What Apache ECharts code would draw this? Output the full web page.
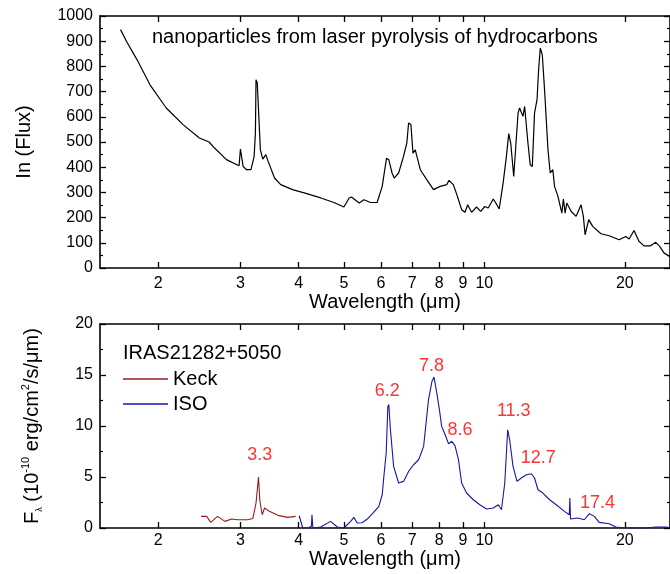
<!DOCTYPE html>
<html lang="en">
<head>
  <meta charset="UTF-8">
  <meta name="viewport" content="width=device-width, initial-scale=1.0">
  <title>PAH spectra</title>
  <style>
    html,body{margin:0;padding:0;background:#fff;}
    #main{width:670px;height:574px;}
  </style>
</head>
<body>
  <div id="main"></div>
  <script src="https://cdn.jsdelivr.net/npm/echarts@6/dist/echarts.min.js"></script>
  <script>
    // wavelength ticks (um), shown on a log scale
    const tickValues=[2,3,4,5,6,7,8,9,10,20];

    // top panel: lab spectrum [wavelength, In(Flux)]
    const labSpectrum=[
      [1.66,946],[1.71,899],[1.80,827],[1.92,727],[2.08,635],[2.26,569],[2.45,516],[2.57,500],[2.58,494],
      [2.64,476],[2.66,478],[2.80,430],[2.98,406],[3.00,472],[3.04,403],[3.09,390],[3.16,390],[3.21,443],
      [3.23,536],[3.24,747],[3.26,734],[3.28,628],[3.31,469],[3.35,432],[3.40,450],[3.44,423],[3.55,357],
      [3.66,331],[3.88,311],[4.00,304],[4.11,298],[4.46,278],[4.76,260],[5.00,242],[5.13,278],[5.19,282],
      [5.39,258],[5.52,271],[5.70,260],[5.89,260],[6.04,324],[6.17,436],[6.24,430],[6.34,377],[6.41,357],
      [6.55,377],[6.71,443],[6.82,496],[6.88,575],[6.96,569],[7.03,456],[7.11,469],[7.29,390],[7.53,350],
      [7.78,311],[8.04,324],[8.31,331],[8.40,348],[8.58,331],[8.73,291],[8.94,231],[9.09,221],[9.21,251],
      [9.39,221],[9.62,242],[9.82,225],[10.02,244],[10.19,238],[10.45,274],[10.58,258],[10.76,234],
      [10.97,337],[11.15,443],[11.28,533],[11.39,496],[11.56,363],[11.67,363],[11.81,615],[11.90,635],
      [12.10,602],[12.20,641],[12.40,496],[12.54,410],[12.67,403],[12.81,615],[12.97,668],[13.07,787],
      [13.18,873],[13.31,846],[13.46,707],[13.69,469],[13.84,377],[14.02,390],[14.14,324],[14.38,284],
      [14.66,218],[14.77,274],[14.90,218],[15.02,258],[15.34,225],[15.73,205],[16.12,251],[16.30,205],
      [16.44,132],[16.74,192],[17.07,165],[17.78,136],[18.52,128],[19.45,112],[20.10,125],[20.43,115],
      [20.93,149],[21.45,106],[21.98,88],[22.72,88],[23.30,102],[23.76,86],[24.26,60],[25,45]
    ];

    // bottom panel: IRAS21282+5050 [wavelength, F_lambda]
    const keck=[
      [2.47,1.14],[2.54,1.14],[2.59,0.55],[2.68,1.14],[2.78,0.65],[2.87,0.88],[2.96,0.81],[3.11,0.81],
      [3.19,0.94],[3.24,2.45],[3.28,5.0],[3.30,2.77],[3.34,1.3],[3.38,1.96],[3.46,1.63],[3.61,1.24],
      [3.79,1.04],[3.94,1.14]
    ];
    const iso=[
      [4.01,1.2],[4.08,0],[4.20,0],[4.26,0.2],[4.27,1.3],[4.29,0],[4.32,0],[4.46,0.1],[4.68,0.65],[4.84,0.1],
      [5.00,0],[5.17,0.65],[5.25,1.04],[5.34,0.49],[5.47,0.52],[5.61,0.88],[5.79,1.53],[5.94,2.12],
      [6.04,3.26],[6.09,5.06],[6.16,7.35],[6.21,11.9],[6.24,12.1],[6.29,9.63],[6.39,6.04],[6.55,4.41],
      [6.71,4.57],[6.88,5.55],[7.05,6.2],[7.23,6.69],[7.41,8.0],[7.59,12.57],[7.72,14.37],[7.80,14.8],
      [7.91,13.2],[8.01,11.6],[8.10,9.96],[8.24,9.14],[8.38,8.26],[8.51,8.49],[8.65,8.07],[8.80,6.7],
      [8.94,4.41],[9.16,3.43],[9.47,2.77],[9.78,2.28],[10.11,1.86],[10.45,1.96],[10.71,2.28],[10.88,1.79],
      [11.06,4.41],[11.15,7.35],[11.22,9.63],[11.33,8.65],[11.52,6.04],[11.75,4.57],[12.00,4.9],
      [12.30,5.22],[12.61,5.32],[12.81,4.9],[13.03,3.75],[13.35,3.43],[13.80,2.77],[14.26,2.28],
      [14.85,1.63],[15.21,1.3],[15.25,2.94],[15.30,0.88],[15.86,0.98],[16.38,0.81],[16.79,1.4],
      [17.21,1.14],[17.62,0.55],[18.52,0.42],[19.14,0.1],[20.10,0],[22.16,0],[23.30,0.1],[24.47,0.1],[25,0.05]
    ];

    // red feature labels and where they sit
    const peakNames=['3.3','6.2','7.8','8.6','11.3','12.7','17.4'];
    const peakSpots=[[3.30,7.18],[6.19,13.45],[7.70,15.9],[8.87,9.63],[11.56,11.43],[13.05,6.86],[17.48,2.48]];

    const FONT='"Liberation Sans", Arial, sans-serif';
    const lg=v=>Math.log10(v);
    const toXY=arr=>arr.map(p=>[lg(p[0]),p[1]]);
    const tickPos=tickValues.map(lg);

    function xAxisFor(gridIndex,top,name,nameGap,labelMargin){
      return {
        type:'value',gridIndex,min:lg(1.5),max:lg(25),position:top?'top':'bottom',
        axisLine:{onZero:false,lineStyle:{color:'#000',width:1.6}},
        axisTick:{inside:true,length:6,customValues:tickPos,lineStyle:{color:'#000',width:1.3}},
        axisLabel:{show:!top,customValues:tickPos,margin:labelMargin,color:'#000',fontSize:16,fontFamily:FONT,
          formatter:v=>String(Math.round(Math.pow(10,v)))},
        splitLine:{show:false},
        name:top?'':name,nameLocation:'middle',nameGap,
        nameTextStyle:{color:'#000',fontSize:20,fontFamily:FONT}
      };
    }
    function yAxisFor(gridIndex,right,max,interval,name,nameGap,rich){
      return {
        type:'value',gridIndex,min:0,max,interval,position:right?'right':'left',
        axisLine:{show:true,onZero:false,lineStyle:{color:'#000',width:1.6}},
        axisTick:{show:true,inside:true,length:6,lineStyle:{color:'#000',width:1.3}},
        minorTick:{show:true,splitNumber:2,length:3,lineStyle:{color:'#000',width:1.2}},
        axisLabel:{show:!right,margin:7,color:'#000',fontSize:16,fontFamily:FONT,formatter:v=>String(v)},
        splitLine:{show:false},
        name:right?'':name,nameLocation:'middle',nameGap,nameRotate:90,
        nameTextStyle:{color:'#000',fontSize:20,fontFamily:FONT,rich:rich||{}}
      };
    }

    const bottomRich={
      n:{fontSize:20,fontFamily:FONT,color:'#000'},
      sub:{fontSize:9,fontFamily:FONT,color:'#000',verticalAlign:'bottom',lineHeight:24},
      sup:{fontSize:11,fontFamily:FONT,color:'#000',verticalAlign:'top',lineHeight:24}
    };

    const chart=echarts.init(document.getElementById('main'));
    const option={
      animation:false,
      backgroundColor:'#fff',
      textStyle:{fontFamily:FONT},
      grid:[
        {left:100,top:16,width:574,height:252},
        {left:100,top:324,width:574,height:204}
      ],
      xAxis:[
        xAxisFor(0,false,'Wavelength (\u03bcm)',24,8),
        xAxisFor(0,true),
        xAxisFor(1,false,'Wavelength (\u03bcm)',18,5),
        xAxisFor(1,true)
      ],
      yAxis:[
        yAxisFor(0,false,1000,100,'In (Flux)',66),
        yAxisFor(0,true,1000,100),
        yAxisFor(1,false,20,5,'{n|F}{sub|\u03bb}{n| (10}{sup|-10}{n| erg/cm}{sup|2}{n|/s/\u03bcm)}',56,bottomRich),
        yAxisFor(1,true,20,5)
      ],
      legend:{
        data:['Keck','ISO'],orient:'vertical',left:123,top:368,padding:0,
        icon:'rect',itemWidth:45,itemHeight:1.3,itemGap:3,
        textStyle:{fontSize:20,color:'#000',fontFamily:FONT,lineHeight:22}
      },
      graphic:[
        {type:'text',left:152,top:27,style:{text:'nanoparticles from laser pyrolysis of hydrocarbons',
          fontSize:20,fontFamily:FONT,fill:'#000'}},
        {type:'text',left:123,top:343,style:{text:'IRAS21282+5050',fontSize:20,fontFamily:FONT,fill:'#000'}}
      ],
      series:[
        {type:'line',name:'lab',xAxisIndex:0,yAxisIndex:0,data:toXY(labSpectrum),showSymbol:false,
          lineStyle:{color:'#000',width:1.2},itemStyle:{color:'#000'}},
        {type:'line',name:'Keck',xAxisIndex:2,yAxisIndex:2,data:toXY(keck),showSymbol:false,
          lineStyle:{color:'#9a1b1b',width:1.1},itemStyle:{color:'#9a1b1b'}},
        {type:'line',name:'ISO',xAxisIndex:2,yAxisIndex:2,data:toXY(iso),showSymbol:false,
          lineStyle:{color:'#1616a8',width:1.1},itemStyle:{color:'#1616a8'}},
        {type:'scatter',name:'peaks',xAxisIndex:2,yAxisIndex:2,symbolSize:0,silent:true,
          data:peakSpots.map((p,i)=>({name:peakNames[i],value:[lg(p[0]),p[1]]})),
          label:{show:true,position:'inside',formatter:'{b}',color:'#ff0000',fontSize:18,fontFamily:FONT}}
      ]
    };
    chart.setOption(option);
  </script>
</body>
</html>
